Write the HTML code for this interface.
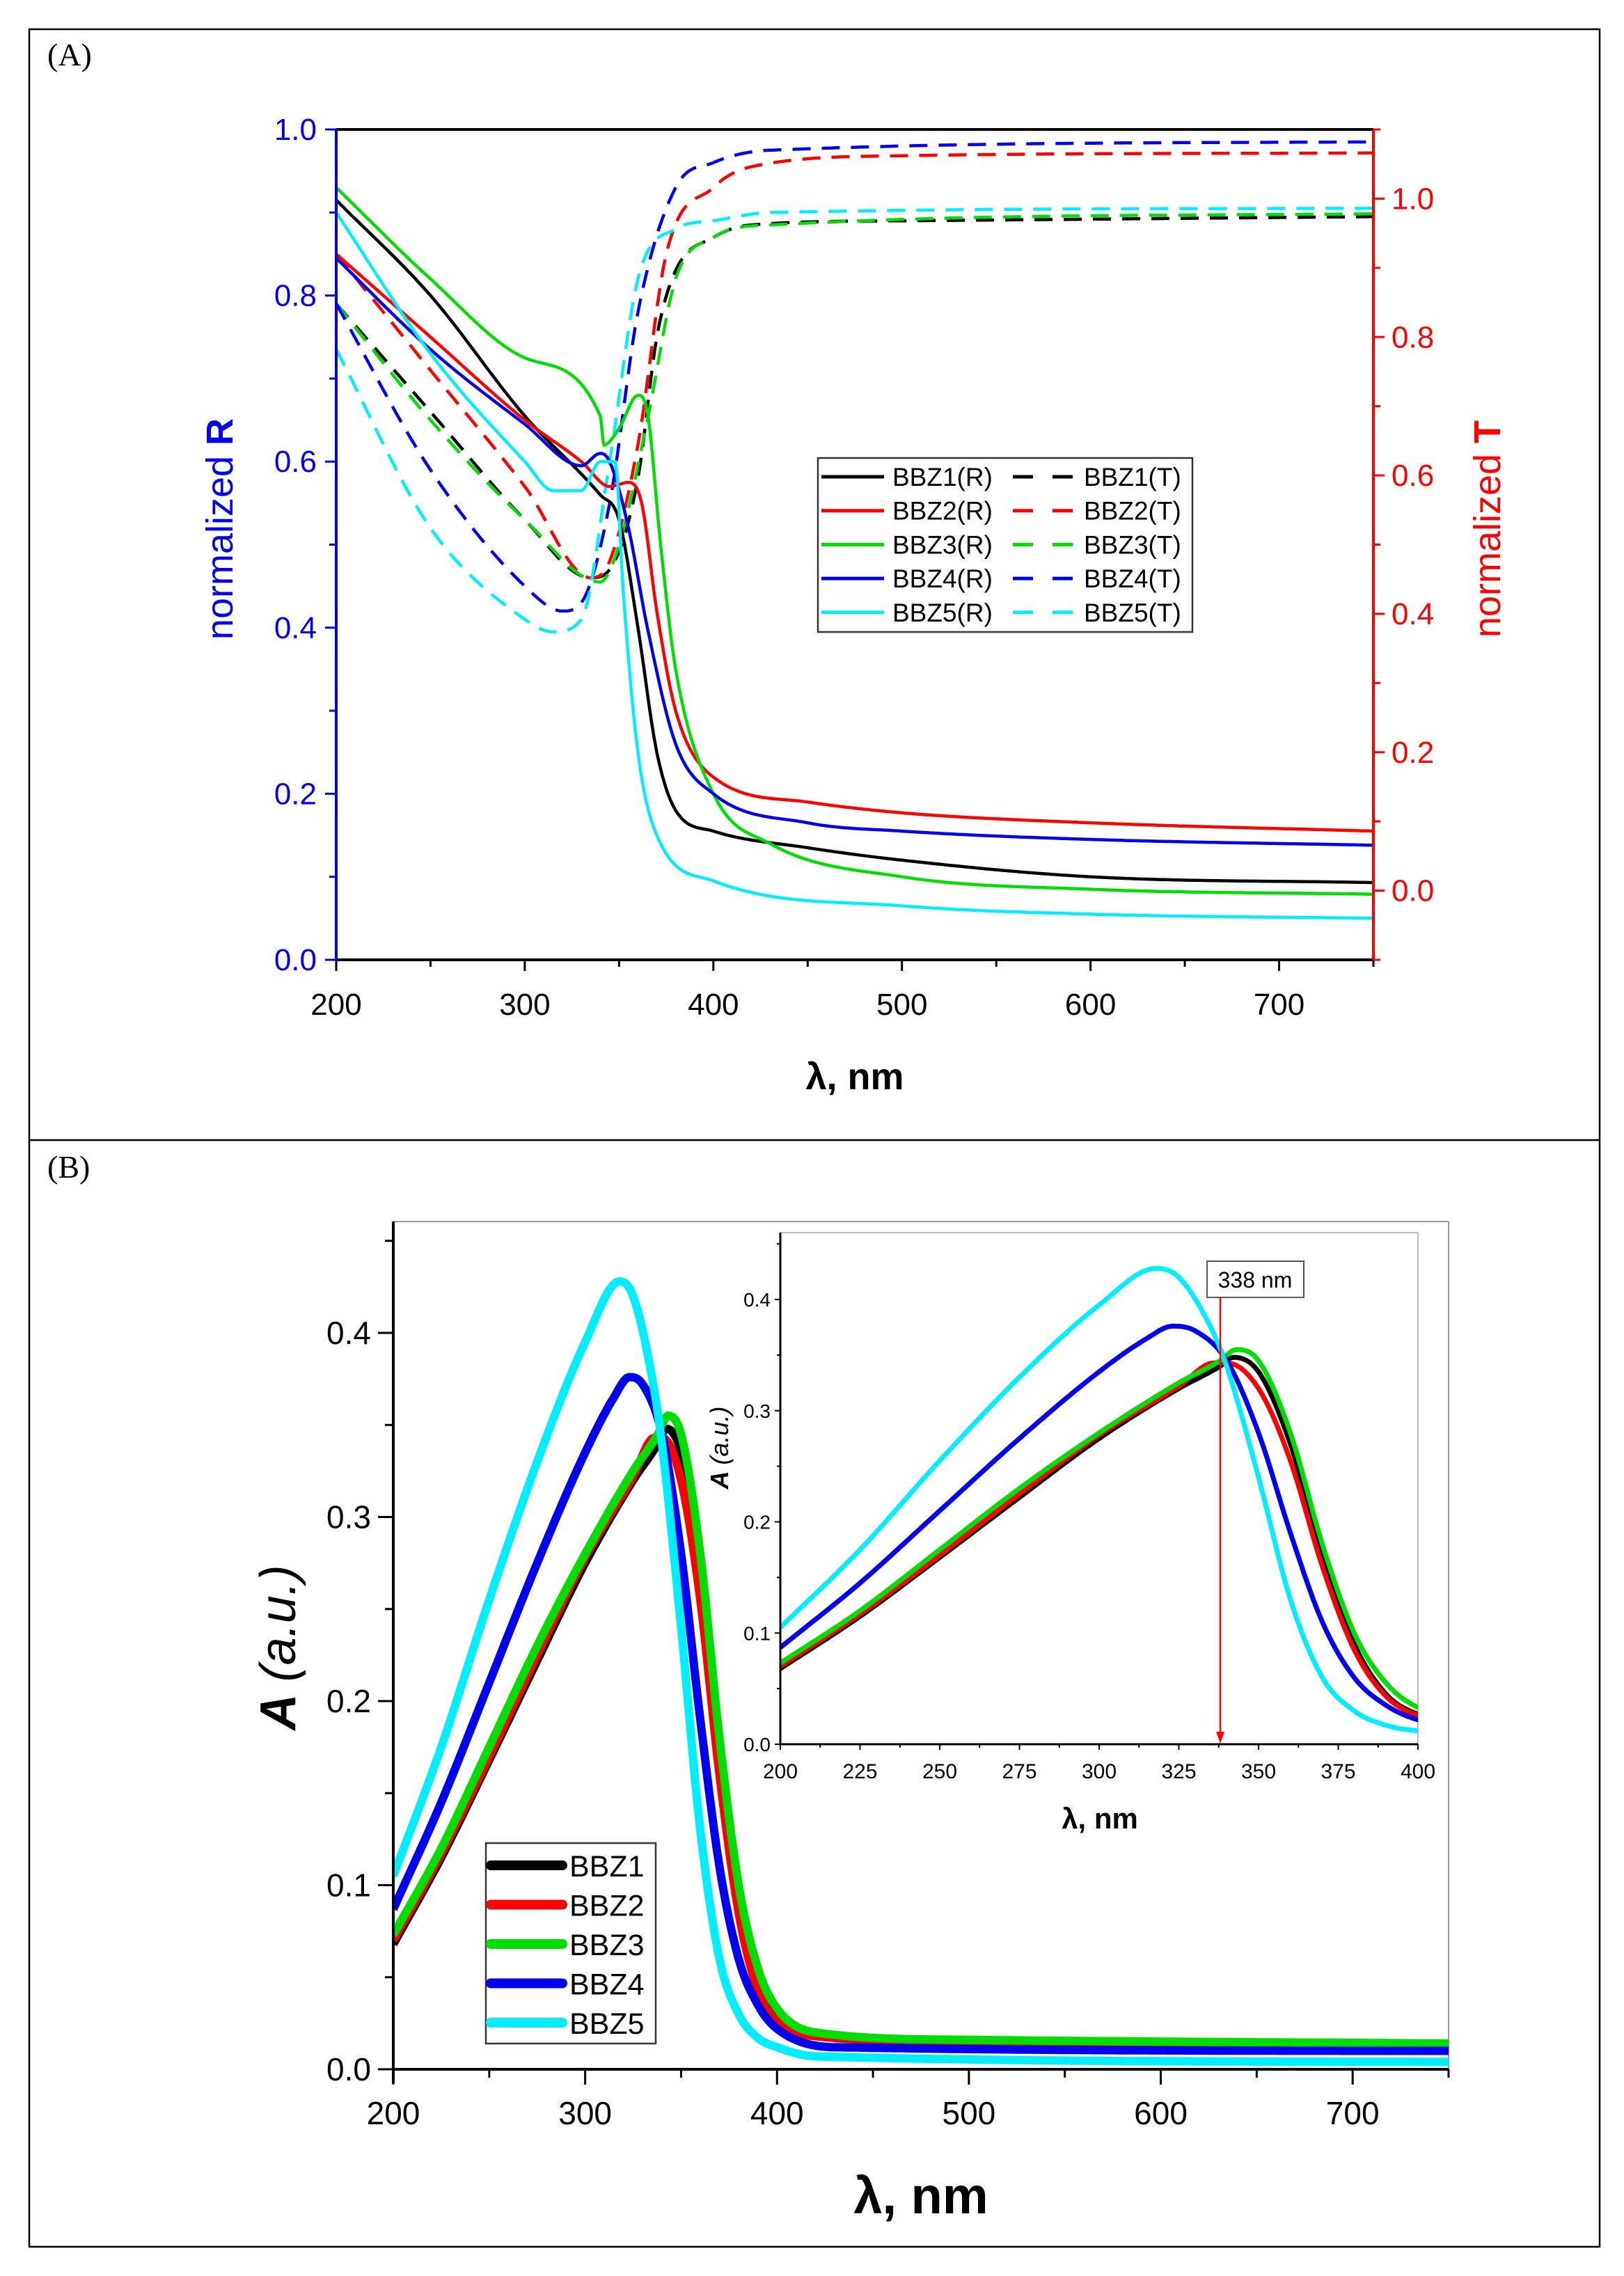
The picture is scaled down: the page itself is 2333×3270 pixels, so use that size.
<!DOCTYPE html>
<html><head><meta charset="utf-8"><style>
html,body{margin:0;padding:0;background:#fff}
svg{display:block}
text{font-family:"Liberation Sans",Arial,sans-serif}
</style></head><body>
<svg id="svg" width="2333" height="3270" viewBox="0 0 2333 3270" xmlns="http://www.w3.org/2000/svg">
<rect x="0" y="0" width="2333" height="3270" fill="#fff"/>
<rect x="42" y="42" width="2256" height="3186" fill="none" stroke="#000" stroke-width="2.5"/>
<line x1="42" y1="1638" x2="2298" y2="1638" stroke="#000" stroke-width="2.5"/>
<text x="68" y="94" font-size="46" style="font-family:'Liberation Serif',serif">(A)</text>
<text x="68" y="1692" font-size="46" style="font-family:'Liberation Serif',serif">(B)</text>
<g id="pa"></g>
<g id="pb"></g>
<g id="pi"></g>
</svg>
<script>
// ---------- Panel A data ----------
const aX_R1=[200,250,300,340,350,360,370,380,400,450,500,600,750];
const aY_R1=[0.915,0.80,0.655,0.56,0.53,0.40,0.25,0.18,0.155,0.135,0.12,0.10,0.093];
const aX_R2=[200,250,300,330,345,355,362,370,380,400,450,500,600,750];
const aY_R2=[0.85,0.75,0.65,0.60,0.57,0.575,0.55,0.42,0.30,0.22,0.19,0.177,0.165,0.155];
const aX_R3=[200,250,300,340,342,350,360,365,372,380,400,430,500,600,750];
const aY_R3=[0.93,0.82,0.725,0.655,0.62,0.64,0.68,0.66,0.50,0.35,0.20,0.14,0.10,0.085,0.079];
const aX_R4=[200,250,300,330,340,345,355,365,380,400,450,500,600,750];
const aY_R4=[0.845,0.735,0.645,0.595,0.61,0.60,0.52,0.40,0.26,0.20,0.165,0.155,0.145,0.138];
const aX_R5=[200,250,300,315,330,340,348,352,360,370,400,500,600,750];
const aY_R5=[0.90,0.73,0.60,0.565,0.565,0.60,0.60,0.45,0.25,0.15,0.095,0.065,0.055,0.05];
const aX_T1=[200,250,300,335,345,360,370,380,400,420,500,750];
const aY_T1=[0.848,0.692,0.536,0.452,0.464,0.596,0.80,0.896,0.944,0.962,0.968,0.974];
const aX_T2=[200,250,300,335,345,360,375,400,420,500,750];
const aY_T2=[0.92,0.752,0.584,0.452,0.476,0.644,0.92,1.016,1.046,1.062,1.066];
const aX_T3=[200,250,300,340,350,365,380,400,430,750];
const aY_T3=[0.848,0.68,0.536,0.446,0.50,0.68,0.884,0.944,0.962,0.978];
const aX_T4=[200,250,300,320,330,345,360,380,400,430,750];
const aY_T4=[0.848,0.608,0.44,0.404,0.416,0.56,0.836,1.016,1.052,1.07,1.082];
const aX_T5=[200,250,300,315,330,345,360,380,400,430,750];
const aY_T5=[0.782,0.524,0.392,0.374,0.392,0.62,0.884,0.956,0.968,0.98,0.986];
const aXTicks=[200,300,400,500,600,700];
const aRTicks=[0.0,0.2,0.4,0.6,0.8,1.0];
const aTTicks=[0.0,0.2,0.4,0.6,0.8,1.0];
const seriesColors=["#000000","#ff0000","#00dd00","#0000ee","#00eeff"];
const seriesNames=["BBZ1","BBZ2","BBZ3","BBZ4","BBZ5"];
// ---------- Panel B data ----------
const bX1=[200,225,250,275,300,325,338,342,350,360,370,380,390,400,420,500,750];
const bY1=[0.068,0.115,0.168,0.222,0.275,0.32,0.34,0.348,0.335,0.27,0.17,0.09,0.045,0.027,0.018,0.015,0.013];
const bX2=[200,225,250,275,300,325,336,340,350,360,370,380,390,400,420,500,750];
const bY2=[0.07,0.117,0.17,0.225,0.278,0.322,0.343,0.343,0.32,0.255,0.16,0.085,0.043,0.026,0.018,0.015,0.013];
const bX3=[200,225,250,275,300,325,338,343,350,360,370,380,390,400,420,500,750];
const bY3=[0.073,0.12,0.175,0.23,0.28,0.325,0.345,0.355,0.345,0.28,0.18,0.10,0.055,0.033,0.02,0.016,0.014];
const bX4=[200,225,250,275,300,315,323,330,340,350,360,370,380,390,400,430,750];
const bY4=[0.087,0.145,0.21,0.275,0.335,0.365,0.376,0.372,0.345,0.28,0.19,0.11,0.06,0.035,0.022,0.012,0.01];
const bX5=[200,225,250,275,300,318,325,335,340,350,360,370,380,390,400,420,750];
const bY5=[0.105,0.175,0.255,0.33,0.395,0.428,0.42,0.375,0.34,0.24,0.13,0.06,0.03,0.017,0.012,0.007,0.004];
const bXTicks=[200,300,400,500,600,700];
const bYTicks=[0.0,0.1,0.2,0.3,0.4];
const iXTicks=[200,225,250,275,300,325,350,375,400];
const iYTicks=[0.0,0.1,0.2,0.3,0.4];
const markerWavelength=[338];

const NS="http://www.w3.org/2000/svg";
function mk(parent,tag,attrs,txt){const e=document.createElementNS(NS,tag);for(const k in attrs)e.setAttribute(k,attrs[k]);if(txt!==undefined)e.textContent=txt;parent.appendChild(e);return e;}
// monotone cubic (Fritsch-Carlson) in data space, sampled densely
function smoothPath(xs,ys,sx,sy){
  const n=xs.length, d=[], m=new Array(n);
  for(let i=0;i<n-1;i++) d.push((ys[i+1]-ys[i])/(xs[i+1]-xs[i]));
  m[0]=d[0]; m[n-1]=d[n-2];
  for(let i=1;i<n-1;i++){ m[i]=(d[i-1]*d[i]<=0)?0:(d[i-1]+d[i])/2; }
  for(let i=0;i<n-1;i++){
    if(d[i]===0){m[i]=0;m[i+1]=0;continue;}
    const a=m[i]/d[i], b=m[i+1]/d[i], s=a*a+b*b;
    if(s>9){const t=3/Math.sqrt(s);m[i]=t*a*d[i];m[i+1]=t*b*d[i];}
  }
  let path="M"+sx(xs[0]).toFixed(1)+","+sy(ys[0]).toFixed(1);
  for(let i=0;i<n-1;i++){
    const h=xs[i+1]-xs[i];
    const steps=Math.max(4,Math.ceil(h/1.5));
    for(let k=1;k<=steps;k++){
      const t=k/steps,t2=t*t,t3=t2*t;
      const h00=2*t3-3*t2+1,h10=t3-2*t2+t,h01=-2*t3+3*t2,h11=t3-t2;
      const y=h00*ys[i]+h10*h*m[i]+h01*ys[i+1]+h11*h*m[i+1];
      const x=xs[i]+t*h;
      path+="L"+sx(x).toFixed(1)+","+sy(y).toFixed(1);
    }
  }
  return path;
}
function lin(d0,d1,r0,r1){return v=>r0+(v-d0)*(r1-r0)/(d1-d0);}

// ================= Panel A =================
(function(){
  const g=document.getElementById('pa');
  const L=483,R=1973,T=186,B=1379;
  const sx=lin(200,750,L,R), sR=lin(0,1,B,T), sT=lin(-0.1,1.1,B,T);
  const clip=mk(g,'clipPath',{id:'clipA'}); mk(clip,'rect',{x:L,y:T-2,width:R-L,height:B-T+4});
  const lines=mk(g,'g',{'clip-path':'url(#clipA)'});
  const RX=[aX_R1,aX_R2,aX_R3,aX_R4,aX_R5], RY=[aY_R1,aY_R2,aY_R3,aY_R4,aY_R5];
  const TX=[aX_T1,aX_T2,aX_T3,aX_T4,aX_T5], TY=[aY_T1,aY_T2,aY_T3,aY_T4,aY_T5];
  for(let i=0;i<5;i++){
    const p=mk(lines,'path',{d:smoothPath(TX[i],TY[i],sx,sT),fill:'none',stroke:seriesColors[i],'stroke-width':4.5,'stroke-dasharray':'26,16'});
    
    
  }
  for(let i=0;i<5;i++){
    const p=mk(lines,'path',{d:smoothPath(RX[i],RY[i],sx,sR),fill:'none',stroke:seriesColors[i],'stroke-width':4.5});
    
    
  }
  const top=mk(g,'line',{x1:L,y1:T,x2:R,y2:T,stroke:'#000','stroke-width':4});
   
  const xa=mk(g,'line',{x1:L,y1:B,x2:R,y2:B,stroke:'#000','stroke-width':4});
   
  const la=mk(g,'line',{x1:L,y1:T,x2:L,y2:B+2,stroke:'#0000ee','stroke-width':4});
   
  const ra=mk(g,'line',{x1:R,y1:T,x2:R,y2:B+2,stroke:'#ff0000','stroke-width':4});
   
  for(let v=200;v<=750;v+=50){
    const major=aXTicks.includes(v);
    mk(g,'line',{x1:sx(v),y1:B,x2:sx(v),y2:B+(major?16:10),stroke:'#000','stroke-width':3});
  }
  aXTicks.forEach(v=>{const t=mk(g,'text',{x:sx(v),y:1458,'font-size':44,'text-anchor':'middle',fill:'#000'},String(v));
     });
  for(let k=0;k<=10;k++){const v=k/10;const major=k%2==0;
    mk(g,'line',{x1:L,y1:sR(v),x2:L-(major?16:10),y2:sR(v),stroke:'#0000ee','stroke-width':3});}
  aRTicks.forEach(v=>{const t=mk(g,'text',{x:L-28,y:sR(v)+15,'font-size':44,'text-anchor':'end',fill:'#0000ee'},v.toFixed(1));
     });
  for(let k=-1;k<=11;k++){const v=k/10;const major=(k%2==0);
    mk(g,'line',{x1:R,y1:sT(v),x2:R+(major?16:10),y2:sT(v),stroke:'#ff0000','stroke-width':3});}
  aTTicks.forEach(v=>{const t=mk(g,'text',{x:R+26,y:sT(v)+15,'font-size':44,'text-anchor':'start',fill:'#ff0000'},v.toFixed(1));
     });
  const xt=mk(g,'text',{x:1228,y:1565,'font-size':54,'font-weight':'bold','text-anchor':'middle'},'λ, nm');
   
  const yl=mk(g,'text',{x:0,y:0,'font-size':54,'text-anchor':'middle',fill:'#0000ee',transform:'translate(334,760) rotate(-90)'});
  mk(yl,'tspan',{},'normalized '); mk(yl,'tspan',{'font-weight':'bold'},'R');
   
  const yr=mk(g,'text',{x:0,y:0,'font-size':54,'text-anchor':'middle',fill:'#ff0000',transform:'translate(2155,760) rotate(-90)'});
  mk(yr,'tspan',{},'normalized '); mk(yr,'tspan',{'font-weight':'bold'},'T');
   
  const lg=mk(g,'g',{});
   
  mk(lg,'rect',{x:1175,y:658,width:538,height:250,fill:'#fff',stroke:'#333','stroke-width':2.5});
  for(let i=0;i<5;i++){
    const y=685+i*48.7;
    const e=mk(lg,'g',{});
    
    
    mk(e,'line',{x1:1180,y1:y,x2:1270,y2:y,stroke:seriesColors[i],'stroke-width':5});
    mk(e,'text',{x:1282,y:y+13,'font-size':37},seriesNames[i]+'(R)');
    mk(e,'line',{x1:1455,y1:y,x2:1484,y2:y,stroke:seriesColors[i],'stroke-width':5});
    mk(e,'line',{x1:1512,y1:y,x2:1541,y2:y,stroke:seriesColors[i],'stroke-width':5});
    mk(e,'text',{x:1557,y:y+13,'font-size':37},seriesNames[i]+'(T)');
  }
})();

// ================= Panel B main =================
const BX=[bX1,bX2,bX3,bX4,bX5], BY=[bY1,bY2,bY3,bY4,bY5];
(function(){
  const g=document.getElementById('pb');
  const L=565,R=2081,T=1755,B=2973;
  const sx=lin(200,750,L,R), sy=lin(0,0.1,B,B-264.5);
  mk(g,'line',{x1:L,y1:T,x2:R,y2:T,stroke:'#999','stroke-width':2});
  mk(g,'line',{x1:R,y1:T,x2:R,y2:B,stroke:'#999','stroke-width':2});
  const clip=mk(g,'clipPath',{id:'clipB'}); mk(clip,'rect',{x:L,y:T,width:R-L,height:B-T});
  const lines=mk(g,'g',{'clip-path':'url(#clipB)'});
  for(let i=0;i<5;i++){
    const p=mk(lines,'path',{d:smoothPath(BX[i],BY[i],sx,sy),fill:'none',stroke:seriesColors[i],'stroke-width':12,'stroke-linejoin':'round'});
    
    
  }
  const xa=mk(g,'line',{x1:L-2,y1:B,x2:R,y2:B,stroke:'#000','stroke-width':4});
   
  const ya=mk(g,'line',{x1:L,y1:T,x2:L,y2:B+20,stroke:'#000','stroke-width':4});
   
  for(let v=200;v<=750;v+=50){const major=bXTicks.includes(v);
    mk(g,'line',{x1:sx(v),y1:B,x2:sx(v),y2:B+(major?22:12),stroke:'#000','stroke-width':3});}
  bXTicks.forEach(v=>{const t=mk(g,'text',{x:sx(v),y:3052,'font-size':46,'text-anchor':'middle'},String(v));
     });
  for(let k=0;k<=9;k++){const v=k*0.05;const major=k%2==0;
    mk(g,'line',{x1:L,y1:sy(v),x2:L-(major?22:12),y2:sy(v),stroke:'#000','stroke-width':3});}
  bYTicks.forEach(v=>{const t=mk(g,'text',{x:L-32,y:sy(v)+16,'font-size':46,'text-anchor':'end'},v.toFixed(1));
     });
  const xt=mk(g,'text',{x:1323,y:3180,'font-size':74,'font-weight':'bold','text-anchor':'middle'},'λ, nm');
   
  const yt=mk(g,'text',{x:0,y:0,'font-size':72,'text-anchor':'middle',transform:'translate(424,2367) rotate(-90)'});
  mk(yt,'tspan',{'font-weight':'bold','font-style':'italic'},'A ');
  mk(yt,'tspan',{'font-style':'italic'},'(a.u.)');
   
  const lg=mk(g,'g',{});
   
  mk(lg,'rect',{x:698,y:2648,width:244,height:288,fill:'#fff',stroke:'#333','stroke-width':2.5});
  for(let i=0;i<5;i++){
    const y=2680+i*56.5;
    const e=mk(lg,'g',{});
    
    
    mk(e,'line',{x1:705,y1:y,x2:808,y2:y,stroke:seriesColors[i],'stroke-width':14,'stroke-linecap':'round'});
    mk(e,'text',{x:818,y:y+16,'font-size':43},seriesNames[i]);
  }
})();

// ================= Inset =================
(function(){
  const g=document.getElementById('pi');
  const L=1121,R=2037,T=1771,B=2506;
  const sx=lin(200,400,L,R), sy=lin(0,0.1,B,B-159.75);
  mk(g,'rect',{x:L,y:T,width:R-L,height:B-T,fill:'#fff',stroke:'#bbb','stroke-width':2});
  const clip=mk(g,'clipPath',{id:'clipI'}); mk(clip,'rect',{x:L,y:T,width:R-L,height:B-T});
  const lines=mk(g,'g',{'clip-path':'url(#clipI)'});
  for(let i=0;i<5;i++){
    const p=mk(lines,'path',{d:smoothPath(BX[i],BY[i],sx,sy),fill:'none',stroke:seriesColors[i],'stroke-width':7,'stroke-linejoin':'round'});
    
    
  }
  mk(g,'line',{x1:L,y1:B,x2:R,y2:B,stroke:'#000','stroke-width':3});
  mk(g,'line',{x1:L,y1:T,x2:L,y2:B,stroke:'#000','stroke-width':3});
  for(let v=200;v<=400;v+=12.5){const major=iXTicks.includes(v);
    mk(g,'line',{x1:sx(v),y1:B,x2:sx(v),y2:B+(major?8:5),stroke:'#000','stroke-width':2});}
  iXTicks.forEach(v=>{const t=mk(g,'text',{x:sx(v),y:2555,'font-size':30,'text-anchor':'middle'},String(v));
     });
  for(let k=0;k<=9;k++){const v=k*0.05;
    mk(g,'line',{x1:L,y1:sy(v),x2:L-(k%2==0?8:5),y2:sy(v),stroke:'#000','stroke-width':2});}
  iYTicks.forEach(v=>{const t=mk(g,'text',{x:L-14,y:sy(v)+10,'font-size':28,'text-anchor':'end'},v.toFixed(1));
     });
  const xt=mk(g,'text',{x:1580,y:2627,'font-size':42,'font-weight':'bold','text-anchor':'middle'},'λ, nm');
   
  const yt=mk(g,'text',{x:0,y:0,'font-size':36,'text-anchor':'middle',transform:'translate(1046,2080) rotate(-90)'});
  mk(yt,'tspan',{'font-weight':'bold','font-style':'italic'},'A ');
  mk(yt,'tspan',{'font-style':'italic'},'(a.u.)');
   
  const mx=sx(markerWavelength[0]);
  const ar=mk(g,'g',{});
   
  mk(ar,'line',{x1:mx,y1:1864,x2:mx,y2:B-14,stroke:'#ff0000','stroke-width':2.5});
  mk(ar,'polygon',{points:`${mx-6},${B-18} ${mx+6},${B-18} ${mx},${B-1}`,fill:'#ff0000'});
  const lb=mk(g,'g',{});
   
  mk(lb,'rect',{x:1734,y:1812,width:139,height:52,fill:'#fff',stroke:'#555','stroke-width':2});
  mk(lb,'text',{x:1803,y:1850,'font-size':32,'text-anchor':'middle'},markerWavelength[0]+' nm');
})();
</script>
</body></html>
